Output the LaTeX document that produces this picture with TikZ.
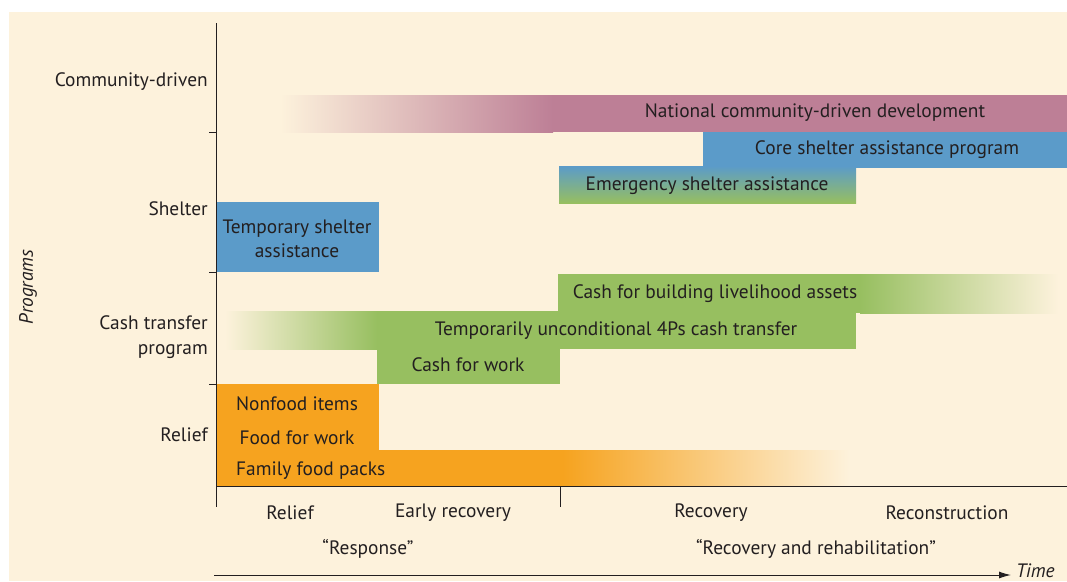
\documentclass[tikz,border=0pt]{standalone}
\usepackage{fontspec}
\setmainfont{PT Sans}
\usetikzlibrary{arrows.meta}
\definecolor{bg}{HTML}{FDF2DC}
\definecolor{ink}{HTML}{231F20}
\definecolor{cpink}{HTML}{BD7F96}
\definecolor{cblue}{HTML}{5B9BC9}
\definecolor{cgreen}{HTML}{97BF60}
\definecolor{corange}{HTML}{F6A31F}
\tikzset{
  lbl/.style={font=\fontsize{19.4}{24.5}\selectfont, text=ink, inner sep=0pt, yshift=-2pt},
  axisline/.style={draw=ink, line width=1pt},
}
\begin{document}
\begin{tikzpicture}[x=1pt,y=-1pt]
\useasboundingbox (0,0) rectangle (1067,581);
\fill[white] (0,0) rectangle (1067,581);
\fill[bg] (9,12) rectangle (1067,581);
% community-driven
\shade[left color=bg, right color=cpink] (280,95) rectangle (553,132);
\fill[cpink] (553,95) rectangle (1067,132);
% shelter
\fill[cblue] (703,132) rectangle (1067,168);
\shade[top color=cblue, bottom color=cgreen] (559,166) rectangle (856,203);
\fill[cblue] (216,202) rectangle (379,272);
% cash transfer
\fill[cgreen] (558,274) rectangle (860,313);
\shade[left color=cgreen, right color=bg] (860,274) rectangle (1058,313);
\shade[left color=bg, right color=cgreen] (225,311) rectangle (377,349);
\fill[cgreen] (377,311) rectangle (856,349);
\fill[cgreen] (377,349) rectangle (560,384);
% relief
\fill[corange] (216,384) rectangle (379,450);
\fill[corange] (216,450) rectangle (563,486);
\shade[left color=corange, right color=bg] (563,450) rectangle (850,486);
% axes
\coordinate (ytop) at (216,23);
\coordinate (origin) at (216,486);
\coordinate (xend) at (1067,486);
\draw[axisline] (ytop) -- (origin) -- (xend);
\foreach \yy in {132,272,384} \draw[axisline] (209,\yy) -- (216,\yy);
\draw[axisline] (216,486) -- (216,507);
\draw[axisline] (560,486) -- (560,507);
\coordinate (tstart) at (214,575);
\coordinate (tend) at (1011,575);
\draw[draw=ink, line width=1pt, -{Latex[length=12pt,width=7pt]}] (tstart) -- (tend);
\node[lbl, anchor=west, font=\fontsize{19.4}{24.5}\selectfont\itshape] (time) at (1016,569) {Time};
% y labels
\node[lbl, anchor=east] (ycdd) at (208,80) {Community-driven};
\node[lbl, anchor=east] (ysh) at (208,207) {Shelter};
\node[lbl, anchor=east, align=right] (yct) at (208,335) {Cash transfer\\program};
\node[lbl, anchor=east] (yrel) at (208,433) {Relief};
\node[lbl, rotate=90, yshift=0pt, font=\fontsize{19.4}{24.5}\selectfont\itshape] (prog) at (28,285) {Programs};
% bar texts
\node[lbl] (ncdd) at (815,111) {National community-driven development};
\node[lbl] (csap) at (887,148) {Core shelter assistance program};
\node[lbl] (esa) at (707,184) {Emergency shelter assistance};
\node[lbl, align=center] (tsa) at (297,237) {Temporary shelter\\assistance};
\node[lbl] (cbla) at (715,292) {Cash for building livelihood assets};
\node[lbl] (tu4p) at (616,329) {Temporarily unconditional 4Ps cash transfer};
\node[lbl] (cfw) at (468,363) {Cash for work};
\node[lbl] (nfi) at (297,402) {Nonfood items};
\node[lbl] (ffw) at (297,436) {Food for work};
\node[lbl, anchor=west] (ffp) at (236,469) {Family food packs};
% x labels
\node[lbl] (xrel) at (290,511) {Relief};
\node[lbl] (xer) at (453,511) {Early recovery};
\node[lbl] (xrec) at (711,511) {Recovery};
\node[lbl] (xrecon) at (947,511) {Reconstruction};
\node[lbl] (resp) at (368,547) {“Response”};
\node[lbl] (rr) at (816,547) {“Recovery and rehabilitation”};
\end{tikzpicture}
\end{document}
